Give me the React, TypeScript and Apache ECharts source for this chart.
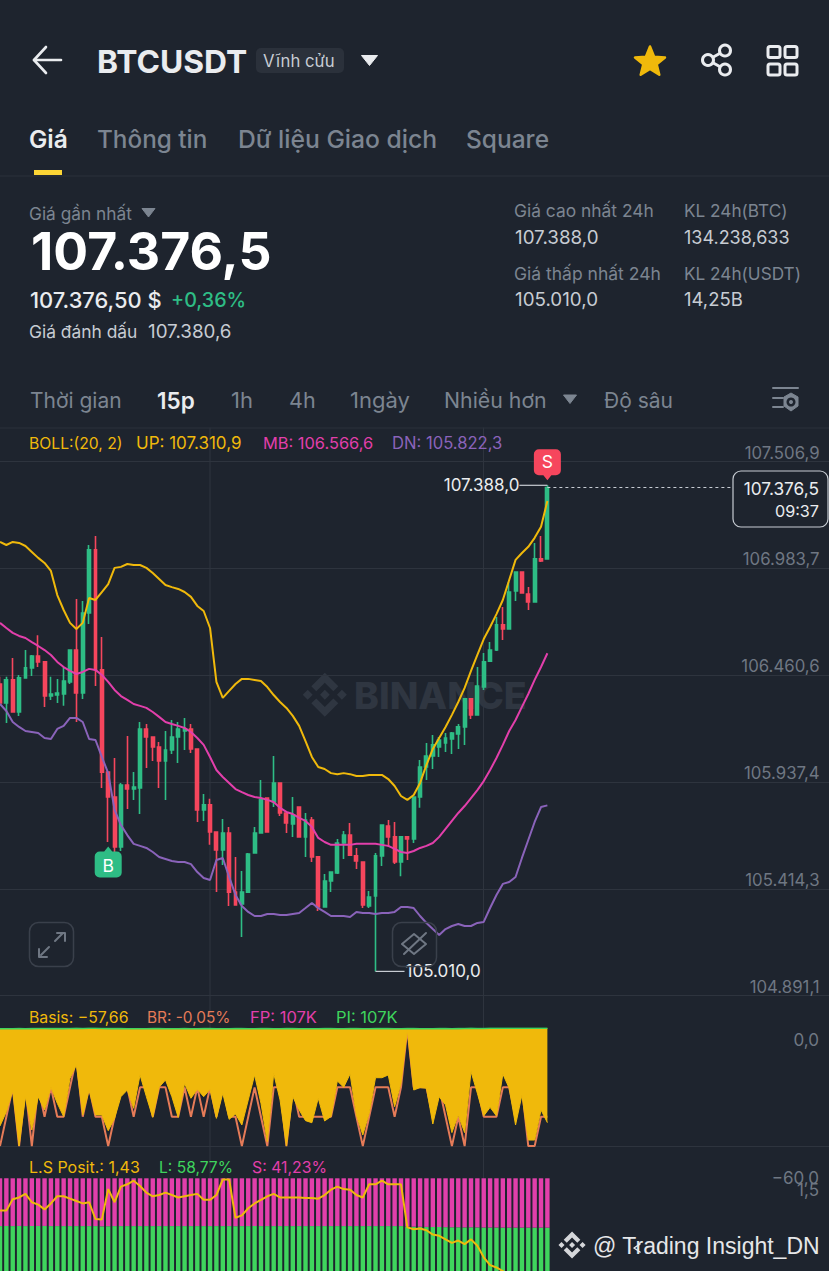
import React, { useEffect, useRef } from "react";
import * as echarts from "echarts";

const FONT = "Inter, 'Noto Sans', sans-serif";
const BG = "#1e242e";
const GRID = "#2e343e";
const GOLD = "#f0b90b";
const MAG = "#e23fab";
const PUR = "#8a63ba";
const UPC = "#2ebd85";
const DNC = "#f6465d";
const ORG = "#e57b58";
const LGR = "#3fd45d";
const GREY = "#7c8591";
const AXT = "#6f7783";
const WHITE = "#eaecef";

const categories = Array.from({ length: 131 }, (_, i) => String(i));

// [open, close, low, high]
const candles = [
  [106416,106323,106323,106451],[106323,106436,106225,106451],[106436,106279,106279,106543],[106279,106446,106259,106460],
  [106446,106495,106446,106582],[106495,106553,106455,106558],[106553,106524,106499,106655],[106524,106357,106304,106524],
  [106357,106367,106338,106451],[106362,106372,106323,106441],[106367,106431,106309,106499],[106426,106582,106416,106582],
  [106582,106372,106230,106832],[106372,106763,106343,106822],[106763,107072,106709,107096],[107072,106485,106406,107140],
  [106485,105985,105907,106646],[105985,105863,105643,105985],[105863,105619,105594,106054],[105619,105922,105599,105932],
  [105922,105902,105805,106161],[105902,105912,105849,105985],[105907,106196,105780,106230],[106196,106157,106005,106220],
  [106157,106108,106039,106157],[106108,106039,105907,106132],[106039,106093,105849,106186],[106093,106157,106074,106240],
  [106157,106196,106029,106230],[106186,106196,106093,106250],[106196,106098,106078,106220],[106098,105800,105741,106098],
  [105800,105825,105746,105878],[105825,105692,105629,105854],[105692,105604,105398,105692],[105604,105687,105530,105756],
  [105687,105398,105330,105717],[105398,105335,105335,105570],[105340,105398,105178,105501],[105398,105584,105398,105589],
  [105589,105687,105589,105717],[105687,105849,105687,105946],[105858,105692,105692,105858],[105839,105932,105814,106064],
  [105932,105785,105770,105932],[105785,105736,105687,105785],[105731,105775,105667,105863],[105814,105668,105668,105814],
  [105668,105751,105570,105785],[105751,105570,105545,105765],[105570,105325,105305,105570],[105325,105452,105325,105486],
  [105452,105496,105398,105496],[105491,105638,105486,105658],[105638,105677,105560,105697],[105677,105579,105579,105736],
  [105575,105550,105511,105614],[105545,105335,105320,105545],[105330,105374,105320,105403],[105379,105575,105010,105589],
  [105575,105726,105525,105726],[105721,105668,105619,105751],[105668,105545,105535,105741],[105545,105668,105476,105668],
  [105668,105658,105555,105668],[105658,105863,105638,105863],[105863,106010,105810,106044],[106010,106064,105946,106127],
  [106064,106118,106000,106167],[106108,106142,106059,106157],[106127,106152,106083,106176],[106147,106176,106074,106181],
  [106172,106206,106098,106220],[106206,106343,106118,106343],[106343,106265,106245,106343],[106265,106406,106265,106499],
  [106401,106524,106387,106568],[106528,106582,106528,106621],[106582,106705,106577,106744],[106705,106685,106631,106793],
  [106685,106866,106685,106915],[106871,106964,106822,106964],[106964,106861,106861,106964],[106856,106817,106778,106891],
  [106817,107028,106817,107106],[107028,107018,107013,107140],[107028,107376.5,107028,107388],
];

const bollUp = [
  107111,107096,107111,107106,107091,107062,107033,107008,106969,106851,
  106778,106715,106685,106715,106837,106827,106866,106905,106984,106989,
  107003,106998,106998,106984,106959,106930,106900,106890,106881,106866,
  106842,106798,106773,106690,106426,106348,106382,106416,106441,106441,
  106436,106431,106401,106362,106328,106299,106260,106211,106137,106059,
  106010,106000,105980,105975,105980,105975,105966,105966,105971,105971,
  105971,105951,105917,105868,105849,105873,105932,106020,106098,106152,
  106206,106265,106328,106397,106480,106558,106636,106695,106758,106827,
  106925,107023,107057,107087,107131,107185,107310.9,
];
const bollMid = [
  106715,106690,106666,106651,106641,106621,106602,106582,106558,106524,
  106499,106480,106465,106475,106490,106485,106460,106426,106387,106357,
  106338,106318,106309,106299,106279,106255,106230,106220,106211,106201,
  106181,106152,106118,106059,105995,105961,105932,105902,105887,105873,
  105863,105858,105849,105839,105810,105790,105780,105761,105746,105717,
  105663,105643,105629,105629,105629,105629,105634,105634,105634,105634,
  105629,105624,105609,105594,105589,105599,105614,105624,105638,105668,
  105707,105746,105785,105819,105858,105897,105941,105995,106054,106118,
  106186,106240,106304,106367,106436,106499,106566.6,
];
const bollDn = [
  106318,106284,106230,106206,106186,106181,106176,106152,106147,106196,
  106211,106250,106250,106230,106147,106142,106059,105980,105800,105726,
  105677,105634,105624,105614,105594,105570,105560,105550,105545,105545,
  105535,105496,105467,105457,105555,105565,105472,105384,105330,105301,
  105281,105281,105291,105291,105286,105286,105291,105296,105320,105345,
  105320,105301,105281,105281,105281,105276,105301,105296,105296,105291,
  105296,105296,105301,105325,105325,105320,105281,105247,105217,105188,
  105217,105232,105242,105232,105232,105247,105252,105320,105384,105438,
  105447,105472,105565,105653,105741,105814,105822.3,
];

const basis = [
  -59.7,-50.9,-37.9,-72.1,-41.6,-62.2,-41.6,-49.8,-35.8,-45.7,
  -53.9,-30.3,-22.0,-52.9,-37.5,-52.9,-52.9,-62.6,-55.0,-41.6,
  -37.5,-48.8,-28.2,-41.6,-54.4,-35.8,-31.3,-41.6,-54.4,-33.4,
  -42.6,-37.1,-41.6,-37.1,-55.0,-39.5,-55.6,-52.3,-59.1,-43.7,
  -28.2,-45.7,-69.4,-27.2,-43.7,-72.1,-41.6,-49.8,-56.4,-57.7,
  -42.6,-56.6,-53.9,-31.9,-35.8,-27.6,-52.9,-65.3,-51.9,-29.9,
  -29.9,-28.2,-47.8,-33.4,-0.4,-37.5,-36.0,-36.4,-58.5,-41.6,
  -46.7,-63.8,-52.9,-63.8,-26.1,-39.5,-53.5,-48.2,-53.5,-27.6,
  -36.4,-59.1,-40.6,-68.4,-68.4,-49.8,-57.66,
];
const basisRate = [
  -0.06,-0.05,-0.04,-0.06,-0.04,-0.06,-0.04,-0.05,-0.04,-0.05,
  -0.05,-0.04,-0.03,-0.05,-0.04,-0.05,-0.05,-0.06,-0.05,-0.04,
  -0.04,-0.05,-0.04,-0.04,-0.05,-0.04,-0.04,-0.05,-0.05,-0.04,
  -0.05,-0.04,-0.05,-0.04,-0.05,-0.04,-0.05,-0.05,-0.06,-0.05,
  -0.04,-0.05,-0.06,-0.04,-0.04,-0.06,-0.04,-0.05,-0.05,-0.05,
  -0.05,-0.05,-0.05,-0.04,-0.04,-0.04,-0.05,-0.06,-0.05,-0.04,
  -0.04,-0.04,-0.05,-0.04,-0.02,-0.04,-0.04,-0.04,-0.05,-0.04,
  -0.05,-0.06,-0.05,-0.06,-0.04,-0.04,-0.05,-0.05,-0.05,-0.04,
  -0.04,-0.05,-0.04,-0.06,-0.06,-0.05,-0.05,
];
const premiumLine = [
  0.3,0.3,0.3,0.4,0.3,0.4,0.5,0.5,0.4,0.4,0.4,0.5,0.6,0.5,0.6,0.6,0.5,0.4,0.5,0.4,
  0.3,0.3,0.3,0.3,0.4,0.4,0.3,0.3,0.3,0.4,0.3,0.3,0.4,0.4,0.3,0.3,0.3,0.4,0.4,0.3,
  0.3,0.4,0.4,0.3,0.3,0.4,0.4,0.3,0.3,0.3,0.3,0.4,0.4,0.3,0.3,0.4,0.4,0.3,0.3,0.4,
  0.4,0.4,0.3,0.3,0.4,0.4,0.3,0.3,0.3,0.4,0.4,0.3,0.4,0.5,0.6,0.5,0.5,0.6,0.6,0.6,
  0.6,0.6,0.6,0.6,0.6,0.6,0.6,
];

const shortPct = [
  39.9,39.9,39.9,39.8,39.9,39.8,39.8,39.8,39.9,39.9,39.9,39.9,39.9,39.9,39.9,39.9,40.1,40.0,39.9,39.9,
  39.9,39.9,39.9,39.9,39.9,39.9,39.9,39.9,39.9,39.9,39.9,39.9,39.9,39.9,39.9,39.9,39.9,40.0,39.9,39.9,
  39.9,39.9,39.9,39.9,39.9,39.9,39.9,39.9,39.9,39.9,39.9,39.9,39.9,39.9,39.9,39.9,39.9,39.9,39.9,39.9,
  39.9,39.9,39.9,39.9,40.3,40.4,40.5,40.6,40.7,40.7,40.8,40.9,40.9,41.0,40.9,41.0,41.1,41.1,41.1,41.2,
  41.2,41.2,41.2,41.2,41.2,41.2,41.23,
];
const longPct = [
  60.1,60.1,60.1,60.2,60.1,60.2,60.2,60.2,60.1,60.1,60.1,60.1,60.1,60.1,60.1,60.1,59.9,60.0,60.1,60.1,
  60.1,60.1,60.1,60.1,60.1,60.1,60.1,60.1,60.1,60.1,60.1,60.1,60.1,60.1,60.1,60.1,60.1,60.0,60.1,60.1,
  60.1,60.1,60.1,60.1,60.1,60.1,60.1,60.1,60.1,60.1,60.1,60.1,60.1,60.1,60.1,60.1,60.1,60.1,60.1,60.1,
  60.1,60.1,60.1,60.1,59.7,59.6,59.5,59.4,59.3,59.3,59.2,59.1,59.1,59.0,59.1,59.0,58.9,58.9,58.9,58.8,
  58.8,58.8,58.8,58.8,58.8,58.8,58.77,
];
const lsRatio = [
  1.503,1.503,1.5125,1.514,1.517,1.510,1.508,1.504,1.509,1.515,
  1.515,1.513,1.511,1.509,1.510,1.496,1.4955,1.521,1.510,1.523,
  1.525,1.528,1.5236,1.518,1.515,1.516,1.518,1.516,1.514,1.515,
  1.516,1.517,1.512,1.512,1.516,1.529,1.529,1.497,1.499,1.505,
  1.509,1.512,1.515,1.517,1.514,1.514,1.514,1.514,1.5136,1.5136,
  1.513,1.516,1.5205,1.523,1.521,1.5205,1.516,1.514,1.525,1.525,
  1.528,1.525,1.525,1.525,1.489,1.4875,1.488,1.4866,1.483,1.482,
  1.479,1.476,1.478,1.475,1.479,1.4736,1.464,1.4575,1.4555,1.4525,
  1.449,1.445,1.442,1.439,1.435,1.4325,1.43,
];

const priceTickValues = [104891.1, 105414.3, 105937.4, 106460.6, 106983.7, 107506.9];
const priceTickLabels = ["104.891,1", "105.414,3", "105.937,4", "106.460,6", "106.983,7", "107.506,9"];
const lastPrice = 107376.5;
const highPrice = 107388;
const lowPrice = 105010;
const buyAnchor = 105643;

const BINANCE_D =
  "M7.5 10.1L12 5.6l4.5 4.5 2.6-2.6L12 .4 4.9 7.5l2.6 2.6zM.4 12L3 9.4 5.6 12 3 14.6.4 12zM7.5 13.9l4.5 4.5 4.5-4.5 2.6 2.6L12 23.6l-7.1-7.1 2.6-2.6zM18.4 12L21 9.4 23.6 12 21 14.6 18.4 12zM14.6 12L12 9.4 9.5 12 12 14.6 14.6 12z";
echarts.graphic.registerShape("binanceLogo", echarts.graphic.extendPath(BINANCE_D, {}));

function txt(text: string, x: number, y: number, fill: string, fontSize: number, fontWeight: any = 400, align = "left", family = FONT) {
  return {
    type: "text", x, y, z: 20, silent: true,
    style: { text, fill, fontSize, fontWeight, fontFamily: family, align, textAlign: align, verticalAlign: "middle", textVerticalAlign: "middle" },
  };
}
function ln(x1: number, y1: number, x2: number, y2: number, stroke: string, lineWidth = 1, z = 20) {
  return { type: "line", z, silent: true, shape: { x1, y1, x2, y2 }, style: { stroke, lineWidth, lineCap: "round" } };
}
function poly(points: number[][], stroke: string, lineWidth: number) {
  return { type: "polyline", z: 20, silent: true, shape: { points }, style: { stroke, lineWidth, fill: null, lineCap: "round", lineJoin: "round" } };
}
function tri(points: number[][], fill: string) {
  return { type: "polygon", z: 20, silent: true, shape: { points }, style: { fill, stroke: fill, lineWidth: 1, lineJoin: "round" } };
}
function box(x: number, y: number, width: number, height: number, r: number, fill: any, stroke: any, lineWidth = 1, z = 20) {
  return { type: "rect", z, silent: true, shape: { x, y, width, height, r }, style: { fill, stroke, lineWidth } };
}
function circ(cx: number, cy: number, r: number, stroke: string, lineWidth: number) {
  return { type: "circle", z: 20, silent: true, shape: { cx, cy, r }, style: { fill: BG, stroke, lineWidth } };
}

const uiGraphics: any[] = [
  // frame lines under the series
  ln(210, 428, 210, 1271, GRID, 1, 0),
  ln(483.5, 428, 483.5, 1271, GRID, 1, 0),
  ln(0, 176, 829, 176, "#2a303a", 1),
  ln(0, 428, 829, 428, "#2a303a", 1),
  // watermark
  { type: "binanceLogo", x: 302, y: 672, scaleX: 1.9, scaleY: 1.9, z: 0, silent: true, style: { fill: "#2f3641" } },
  { ...txt("BINANCE", 354, 695, "#2f3641", 37.5, 800), z: 0 },
  // header
  poly([[46, 47], [34, 60], [46, 73]], WHITE, 2.6),
  ln(34, 60, 61, 60, WHITE, 2.6),
  txt("BTCUSDT", 97, 61, WHITE, 31.8, 700),
  box(256, 48, 88, 25, 5, "#2b313b", null),
  txt("Vĩnh cửu", 263, 61, "#c7ccd3", 16.7),
  tri([[361.5, 55.5], [377.5, 55.5], [369.5, 65.5]], WHITE),
  { type: "polygon", z: 20, silent: true, shape: { points: [[650, 46.5], [654.1, 56.8], [665, 57.5], [656.7, 64.2], [659.3, 74.8], [650, 69], [640.7, 74.8], [643.3, 64.2], [635, 57.5], [645.9, 56.8]] }, style: { fill: GOLD, stroke: GOLD, lineWidth: 2.5, lineJoin: "round" } },
  ln(708, 60, 725, 50.5, WHITE, 3),
  ln(708, 60, 725, 69.5, WHITE, 3),
  circ(708, 60, 5.5, WHITE, 3),
  circ(725, 50.5, 5.5, WHITE, 3),
  circ(725, 69.5, 5.5, WHITE, 3),
  box(768, 46.5, 12, 11, 2, null, WHITE, 3),
  box(785, 46.5, 12, 11, 2, null, WHITE, 3),
  box(768, 64, 12, 11, 2, null, WHITE, 3),
  box(785, 64, 12, 11, 2, null, WHITE, 3),
  // tabs
  txt("Giá", 29, 139, WHITE, 24.5, 600),
  txt("Thông tin", 97, 139, GREY, 24.3, 500),
  txt("Dữ liệu Giao dịch", 238, 139, GREY, 24.7, 500),
  txt("Square", 466, 139, GREY, 24.5, 500),
  box(34, 170, 28, 5, 0, "#fcd535", null),
  // price block
  txt("Giá gần nhất", 29, 213, GREY, 17.3),
  tri([[142, 208.5], [155, 208.5], [148.5, 217]], GREY),
  txt("107.376,5", 31, 251, "#ffffff", 51.7, 700),
  txt("107.376,50 $", 30, 300, WHITE, 21.9, 500),
  txt("+0,36%", 171, 300, UPC, 19.7, 500),
  txt("Giá đánh dấu", 29, 331, "#c7ccd3", 17.4),
  txt("107.380,6", 148, 331, "#c7ccd3", 18.8),
  txt("Giá cao nhất 24h", 514, 210, GREY, 17.4),
  txt("107.388,0", 515, 237, "#c7ccd3", 18.8),
  txt("Giá thấp nhất 24h", 514, 273, GREY, 17.5),
  txt("105.010,0", 515, 299, "#c7ccd3", 18.8),
  txt("KL 24h(BTC)", 684, 210, GREY, 17.2),
  txt("134.238,633", 684, 237, "#c7ccd3", 18),
  txt("KL 24h(USDT)", 684, 273, GREY, 17.2),
  txt("14,25B", 684, 299, "#c7ccd3", 18.5),
  // interval row
  txt("Thời gian", 30, 400, GREY, 21),
  txt("15p", 157, 400, WHITE, 22.5, 600),
  txt("1h", 231, 400, GREY, 22),
  txt("4h", 289, 400, GREY, 21.5),
  txt("1ngày", 350, 400, GREY, 22),
  txt("Nhiều hơn", 444, 400, GREY, 21.3),
  tri([[563.5, 395], [576.5, 395], [570, 403.5]], GREY),
  txt("Độ sâu", 604, 400, GREY, 21),
  ln(773, 388, 798, 388, GREY, 2),
  ln(773, 398, 783, 398, GREY, 2),
  ln(773, 407, 783, 407, GREY, 2),
  tri([[791, 393], [798, 397], [798, 406], [791, 411], [784, 406], [784, 397]], GREY),
  { type: "circle", z: 21, silent: true, shape: { cx: 791, cy: 402, r: 4.5 }, style: { fill: BG } },
  { type: "circle", z: 22, silent: true, shape: { cx: 791, cy: 402, r: 2 }, style: { fill: GREY } },
  // boll legend
  txt("BOLL:(20, 2)", 29, 443, GOLD, 15.7),
  txt("UP: 107.310,9", 136, 443, GOLD, 17),
  txt("MB: 106.566,6", 263, 443, MAG, 16.4),
  txt("DN: 105.822,3", 392, 443, PUR, 16.6),
  // price tag
  box(733, 471, 95, 56, 8, BG, "#c7ccd3", 1.2, 21),
  { ...txt("107.376,5", 819, 488, WHITE, 17.3, 400, "right"), z: 22 },
  { ...txt("09:37", 819, 511, WHITE, 16.2, 400, "right"), z: 22 },
  // floating buttons
  box(29.5, 922.5, 44, 44, 9, null, "#3a404b", 1.5),
  ln(41, 955, 49, 947, "#6f7783", 2),
  poly([[39, 949], [39, 957], [47, 957]], "#6f7783", 2),
  ln(63, 933, 55, 941, "#6f7783", 2),
  poly([[57, 933], [65, 933], [65, 941]], "#6f7783", 2),
  box(392.5, 922.5, 44, 44, 9, null, "#3a404b", 1.5),
  poly([[402, 944], [414, 934], [426, 944], [414, 954], [402, 944]], "#6f7783", 2),
  ln(404, 954, 426, 933, "#6f7783", 2),
  // basis legend
  txt("Basis: −57,66", 29, 1017, GOLD, 15.8),
  txt("BR: -0,05%", 147, 1017, ORG, 15.4),
  txt("FP: 107K", 250, 1017, MAG, 16.5),
  txt("PI: 107K", 336, 1017, LGR, 16.5),
  txt("0,0", 819, 1040, AXT, 17, 400, "right"),
  txt("−60,0", 819, 1178, AXT, 17, 400, "right"),
  txt("1,5", 819, 1190, AXT, 17, 400, "right"),
  // L/S legend
  txt("L.S Posit.: 1,43", 29, 1167, GOLD, 16),
  txt("L: 58,77%", 159, 1167, LGR, 15.6),
  txt("S: 41,23%", 252, 1167, MAG, 15.8),
  // credit overlay
  { type: "binanceLogo", x: 558, y: 1231, scaleX: 1.17, scaleY: 1.17, z: 20, silent: true, style: { fill: "#d5d7da" } },
  txt("@ Trading Insight_DN", 593, 1246, "#e6e7e9", 23, 400, "left", "'Liberation Sans', Arial, sans-serif"),
  poly([[640, 1244], [634, 1248], [640, 1252]], "#eaecef", 1.5),
];

const BUY_PATH = "path://M5 5H9.5L13.5 0L17.5 5H22A5 5 0 0 1 27 10V26A5 5 0 0 1 22 31H5A5 5 0 0 1 0 26V10A5 5 0 0 1 5 5Z";
const SELL_PATH = "path://M5 0H22A5 5 0 0 1 27 5V21A5 5 0 0 1 22 26H17.5L13.5 31L9.5 26H5A5 5 0 0 1 0 21V5A5 5 0 0 1 5 0Z";
const LEFT = -3.18;
const WIDTH = 833.8;

function xAxis(gridIndex: number, lineVisible: boolean) {
  return {
    type: "category", gridIndex, data: categories, boundaryGap: true,
    axisLabel: { show: false }, axisTick: { show: false }, splitLine: { show: false },
    axisLine: { show: lineVisible, onZero: false, lineStyle: { color: GRID, width: 1 } },
  };
}
function hiddenY(gridIndex: number, min: number, max: number) {
  return { type: "value", gridIndex, min, max, show: false, splitLine: { show: false } };
}
function lineS(name: string, data: number[], color: string, xi: number, yi: number, z: number, width = 2, extra: any = {}) {
  return { type: "line", name, data, xAxisIndex: xi, yAxisIndex: yi, z, symbol: "none", showSymbol: false, lineStyle: { color, width }, itemStyle: { color }, silent: true, ...extra };
}

export default function App() {
  const ref = useRef<HTMLDivElement>(null);
  useEffect(() => {
    const chart = echarts.init(ref.current!, null, { renderer: "svg" });
    chart.setOption({
      animation: false,
      backgroundColor: BG,
      textStyle: { fontFamily: FONT },
      grid: [
        { left: LEFT, width: WIDTH, top: 461, height: 534.7, outerBoundsMode: "none" },
        { left: LEFT, width: WIDTH, top: 1028, height: 118.7, outerBoundsMode: "none" },
        { left: LEFT, width: WIDTH, top: 1178.3, height: 119.7, outerBoundsMode: "none" },
      ],
      xAxis: [xAxis(0, false), xAxis(1, true), xAxis(2, false)],
      yAxis: [
        {
          type: "value", gridIndex: 0, position: "right",
          min: priceTickValues[0], max: priceTickValues[5],
          axisLine: { show: false },
          axisTick: { show: false, customValues: priceTickValues },
          splitLine: { show: true, lineStyle: { color: GRID, width: 1 } },
          axisLabel: {
            inside: true, margin: 11, color: AXT, fontSize: 16.8, fontFamily: FONT,
            verticalAlign: "bottom", customValues: priceTickValues,
            formatter: (v: number) => {
              const i = priceTickValues.findIndex((p) => Math.abs(p - v) < 0.5);
              return i >= 0 ? priceTickLabels[i] : "";
            },
          },
        },
        hiddenY(1, -72.5, 0.8),
        hiddenY(1, -0.0602, -0.0198),
        hiddenY(2, 0, 100),
        hiddenY(2, 1.43, 1.53),
      ],
      graphic: { elements: uiGraphics },
      series: [
        {
          type: "candlestick", name: "BTCUSDT", data: candles, xAxisIndex: 0, yAxisIndex: 0, z: 3, barWidth: 3.4,
          silent: true,
          itemStyle: { color: UPC, color0: DNC, borderColor: UPC, borderColor0: DNC, borderWidth: 1.6 },
          markLine: {
            silent: true, symbol: ["none", "none"], label: { show: false },
            lineStyle: { color: "#c7ccd3", type: [3, 3], width: 1 },
            data: [[{ coord: [86, lastPrice] }, { coord: [115, lastPrice] }]],
          },
          markPoint: {
            silent: true,
            data: [
              {
                name: "B", coord: [17, buyAnchor], symbol: BUY_PATH, symbolSize: [27, 31], symbolOffset: [0, 20],
                symbolKeepAspect: false, itemStyle: { color: UPC },
                label: { show: true, position: "inside", formatter: "B", color: "#fff", fontSize: 17.5, fontFamily: FONT, offset: [0, 3] },
              },
              {
                name: "S", coord: [86, highPrice], symbol: SELL_PATH, symbolSize: [27, 31], symbolOffset: [0, -20.5],
                symbolKeepAspect: false, itemStyle: { color: DNC },
                label: { show: true, position: "inside", formatter: "S", color: "#fff", fontSize: 17.5, fontFamily: FONT, offset: [0, -3] },
              },
              {
                name: "hi", coord: [86, highPrice], symbol: "rect", symbolSize: [28, 1.2], symbolOffset: [-14, 0], itemStyle: { color: "#c7ccd3" },
                label: { show: true, position: "left", distance: 0, formatter: "107.388,0", color: WHITE, fontSize: 17, fontFamily: FONT },
              },
              {
                name: "lo", coord: [59, lowPrice], symbol: "rect", symbolSize: [29, 1.2], symbolOffset: [14.5, 0], itemStyle: { color: "#c7ccd3" },
                label: { show: true, position: "right", distance: 1, formatter: "105.010,0", color: WHITE, fontSize: 17, fontFamily: FONT },
              },
            ],
          },
        },
        lineS("UP", bollUp, GOLD, 0, 0, 4),
        lineS("MB", bollMid, MAG, 0, 0, 4),
        lineS("DN", bollDn, PUR, 0, 0, 4),
        lineS("BR", basisRate, ORG, 1, 2, 2, 2),
        lineS("Basis", basis, GOLD, 1, 1, 3, 1, { areaStyle: { origin: "end", color: GOLD, opacity: 1 } }),
        lineS("PI", premiumLine, LGR, 1, 1, 4, 1.6),
        { type: "bar", name: "L", data: longPct, stack: "ls", xAxisIndex: 2, yAxisIndex: 3, barWidth: 4.4, itemStyle: { color: LGR }, z: 2, silent: true },
        { type: "bar", name: "S", data: shortPct, stack: "ls", xAxisIndex: 2, yAxisIndex: 3, barWidth: 4.4, itemStyle: { color: MAG }, z: 2, silent: true },
        lineS("L.S Posit.", lsRatio, GOLD, 2, 4, 4, 2),
      ],
    });
    return () => chart.dispose();
  }, []);
  return <div ref={ref} style={{ position: "absolute", left: 0, top: 0, width: 829, height: 1271, overflow: "hidden" }} />;
}
